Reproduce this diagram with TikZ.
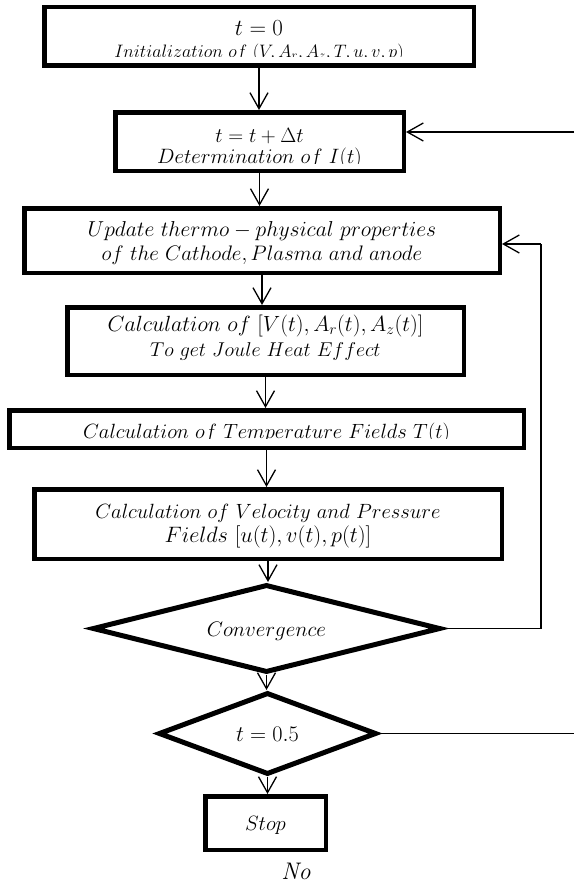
\RequirePackage{fix-cm}
\documentclass[tikz,border=0pt]{standalone}
\usepackage{fontspec}
\usetikzlibrary{arrows.meta,shapes.geometric}
\newcommand\fsz[1]{\fontsize{#1}{#1}\selectfont}
\tikzset{
  box/.style={draw, line width=4.5pt, rectangle, inner sep=0pt},
  dia/.style={draw, line width=5pt, diamond, inner sep=0pt},
  conn/.style={line width=1.3pt, -{Straight Barb[length=16pt,width=18pt,line width=1.3pt]}},
  plainline/.style={line width=1.3pt},
  lbl/.style={anchor=base, inner sep=0pt},
}
\begin{document}
\begin{tikzpicture}[x=1pt,y=-1pt]
\useasboundingbox (0,0) rectangle (574,883);
% boxes
\node[box, minimum width=429.5pt, minimum height=58.5pt] (b1) at (259,36.5) {};
\node[box, minimum width=288.5pt, minimum height=58.5pt] (b2) at (259.5,141.5) {};
\node[box, minimum width=475.5pt, minimum height=64.5pt] (b3) at (262,240.5) {};
\node[box, minimum width=396.5pt, minimum height=67.5pt] (b4) at (265.5,341) {};
\node[box, minimum width=514.5pt, minimum height=37.5pt] (b5) at (266.5,429) {};
\node[box, minimum width=467.5pt, minimum height=69.5pt] (b6) at (268,524) {};
\node[dia, minimum width=348pt, minimum height=88pt] (d1) at (266.5,628.5) {};
\node[dia, minimum width=218pt, minimum height=82pt] (d2) at (267.5,733.5) {};
\node[box, minimum width=120.5pt, minimum height=53.5pt] (b7) at (265.5,823) {};
% texts
\node[lbl, font=\fsz{23}] (t1a) at (259,36) {$t=0$};
\begin{scope}
\clip (44,8) rectangle (474,57);
\node[lbl, font=\fsz{18}] (t1b) at (259,57) {$Initialization\ of\ (V,A_r,A_z,T,u,v,p)$};
\end{scope}
\node[lbl, font=\fsz{20.7}] (t2a) at (259.5,142) {$t=t+\Delta t$};
\begin{scope}
\clip (115,112) rectangle (404,163);
\node[lbl, font=\fsz{20.8}] (t2b) at (259.5,163) {$Determination\ of\ I(t)$};
\end{scope}
\node[lbl, font=\fsz{21.6}] (t3a) at (262,236) {$Update\ thermo-physical\ properties$};
\node[lbl, font=\fsz{21}] (t3b) at (262,260) {$of\ the\ Cathode,Plasma\ and\ anode$};
\node[lbl, font=\fsz{22}] (t4a) at (265.5,331) {$Calculation\ of\ [V(t),A_r(t),A_z(t)]$};
\node[lbl, font=\fsz{20}] (t4b) at (265.5,356) {$To\ get\ Joule\ Heat\ Effect$};
\begin{scope}
\clip (9,410) rectangle (524,438);
\node[lbl, font=\fsz{20.6}] (t5) at (266.5,438) {$Calculation\ of\ Temperature\ Fields\ T(t)$};
\end{scope}
\node[lbl, font=\fsz{20.6}] (t6a) at (268,518) {$Calculation\ of\ Velocity\ and\ Pressure$};
\node[lbl, font=\fsz{22.3}] (t6b) at (268,542) {$Fields\ [u(t),v(t),p(t)]$};
\node[lbl, font=\fsz{21}] (td1) at (266.5,636) {$Convergence$};
\node[lbl, font=\fsz{22.3}] (td2) at (267.5,741) {$t=0.5$};
\node[lbl, font=\fsz{20.7}] (t7) at (265.5,830) {$Stop$};
\node[lbl, font=\itshape\fsz{24}] (no) at (296,879) {No};
% connectors
\draw[conn] (b1.south) -- (b1.south |- b2.north);
\draw[conn] (b2.south) -- (b2.south |- b3.north);
\draw[conn] (b3.south) -- (b3.south |- b4.north);
\draw[conn] (b4.south) -- (b4.south |- b5.north);
\draw[conn] (b5.south) -- (b5.south |- b6.north);
\draw[conn] (b6.south) -- (b6.south |- d1.north);
\draw[conn] (d1.south) -- (d1.south |- d2.north);
\draw[conn] (d2.south) -- (d2.south |- b7.north);
\coordinate (rin) at (574,132);
\draw[conn] (rin) -- (rin -| b2.east);
\coordinate (fb) at (541,244);
\draw[plainline] (d1.east) -| (fb);
\draw[conn] (fb) -- (fb -| b3.east);
\coordinate (rout) at (574,733.5);
\draw[plainline] (d2.east) -- (rout);
\end{tikzpicture}
\end{document}
